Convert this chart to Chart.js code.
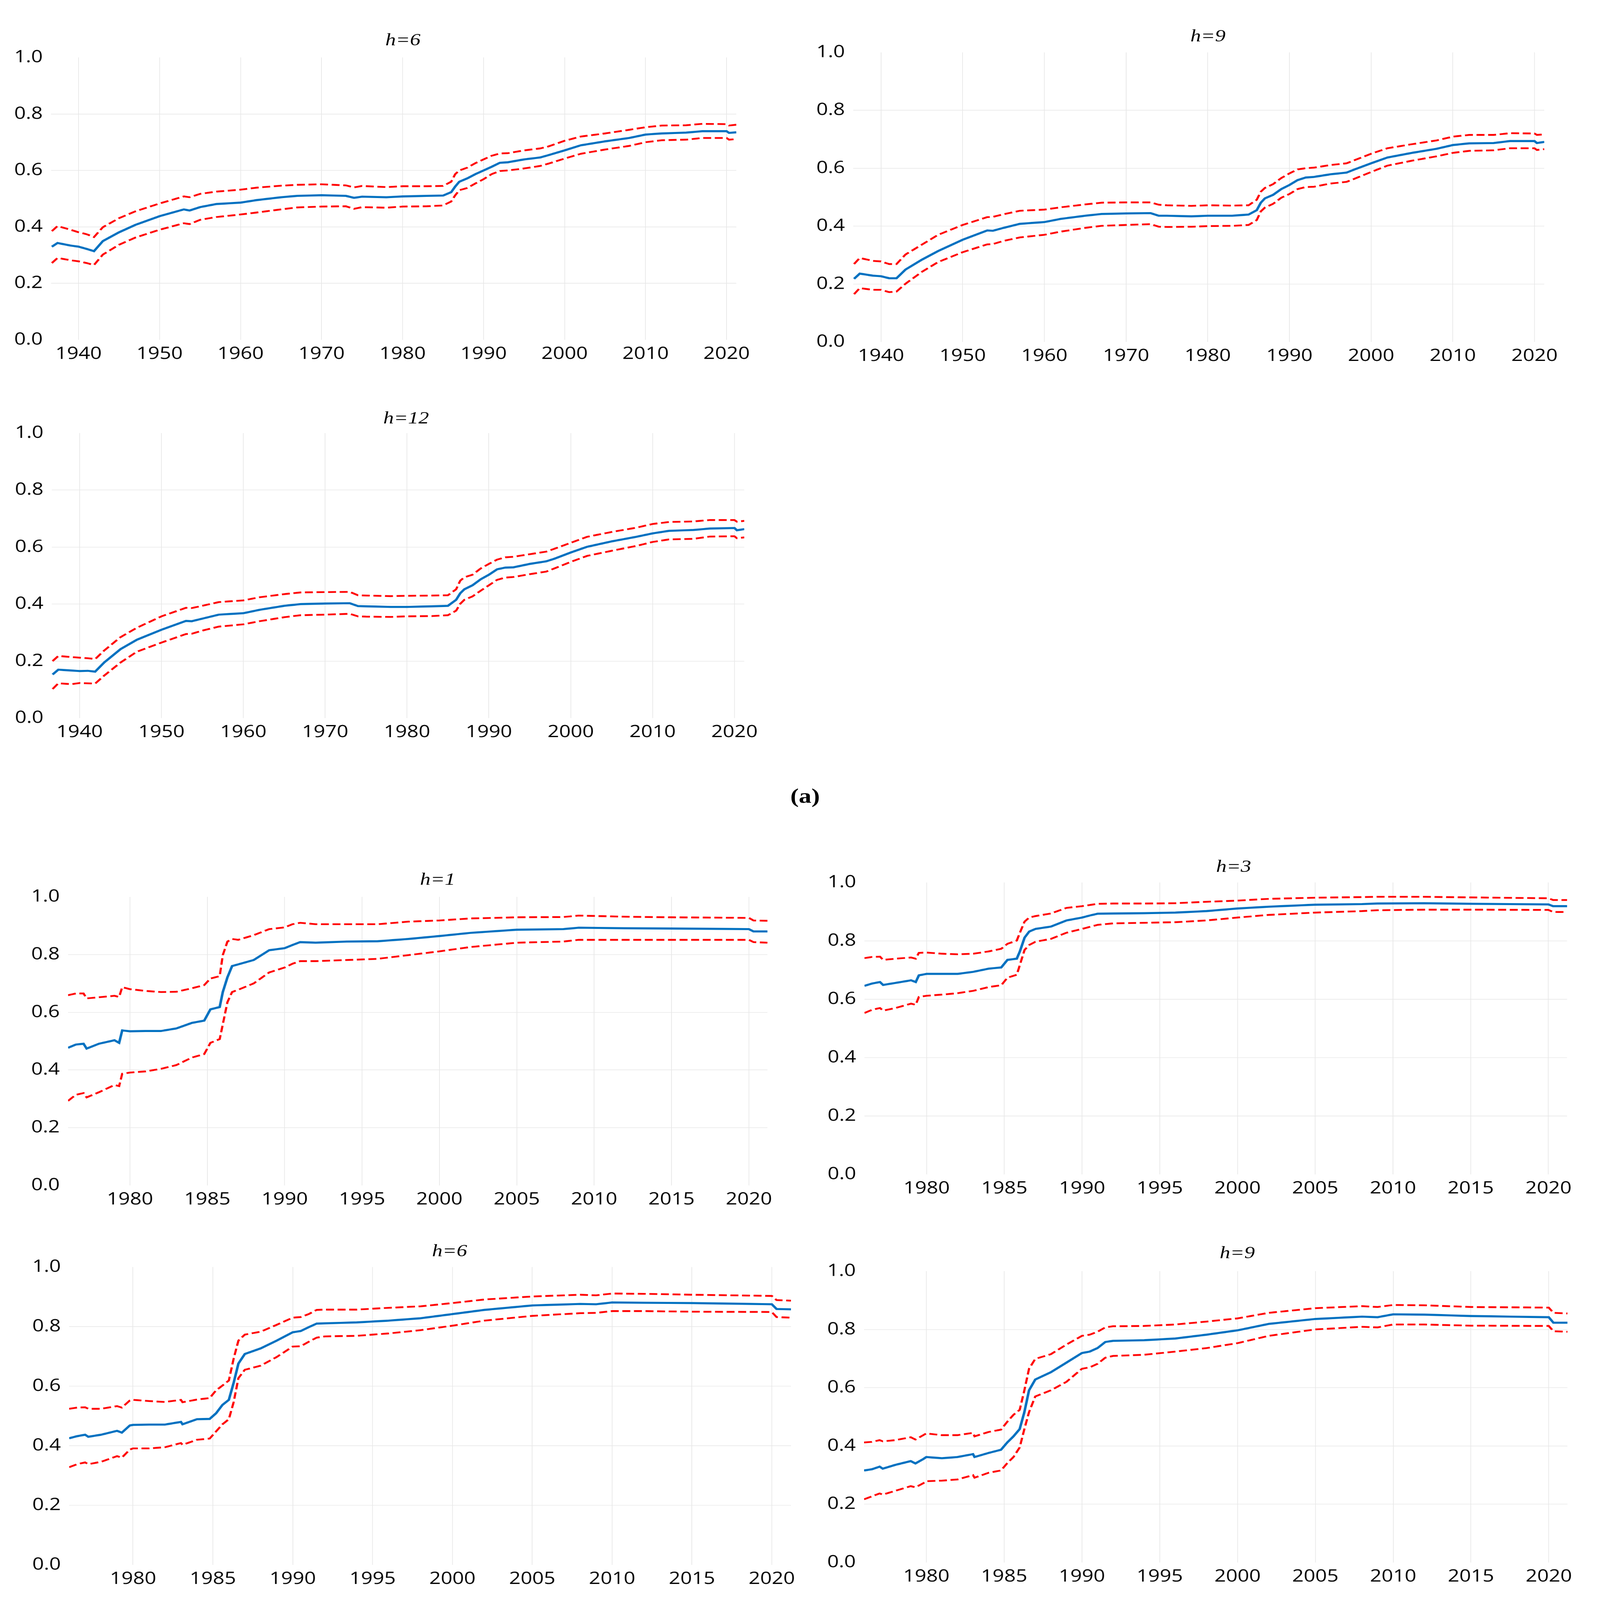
<!DOCTYPE html>
<html>
<head>
<meta charset="utf-8">
<script src="https://cdn.jsdelivr.net/npm/chart.js@4.4.1/dist/chart.umd.min.js"></script>
<style>
html,body{margin:0;padding:0;background:#fff;overflow:hidden;}
#page{position:absolute;left:0;top:0;width:4420px;height:5372px;background:#fff;overflow:hidden;transform-origin:0 0;}
#page canvas{position:absolute;}
.ttl{position:absolute;font-family:"Liberation Serif","Times New Roman",serif;font-style:italic;font-size:58px;line-height:1;transform:translate(-50%,-50%);white-space:nowrap;color:#000;}
.lab{position:absolute;font-family:"Liberation Serif","Times New Roman",serif;font-weight:bold;font-size:70px;line-height:1;transform:translate(-50%,-50%);white-space:nowrap;color:#000;}
</style>
</head>
<body>
<div id="page"></div>
<script>
// ---------------- DATA ----------------
const topTicks = [1940, 1950, 1960, 1970, 1980, 1990, 2000, 2010, 2020];
const botTicks = [1980, 1985, 1990, 1995, 2000, 2005, 2010, 2015, 2020];
const yTicks = [0.0, 0.2, 0.4, 0.6, 0.8, 1.0];
const topRange = [1936.6, 2021.2];
const botRange = [1976.0, 2021.2];

const yearsTop = [1936.7,1937.4,1939,1940,1941,1941.9,1943,1945,1947,1950,1953,1953.7,1955,1957,1960,1962,1965,1967,1970,1973,1974,1975,1978,1980,1983,1985,1986,1986.5,1987,1988,1989,1990,1991,1992,1993,1995,1997,1998,2000,2002,2005,2008,2010,2012,2015,2017,2020,2020.3,2021.2];

const h6TopMid = [0.330,0.343,0.334,0.330,0.322,0.314,0.350,0.381,0.407,0.438,0.462,0.458,0.470,0.481,0.486,0.495,0.505,0.510,0.512,0.510,0.503,0.507,0.505,0.508,0.510,0.511,0.523,0.543,0.560,0.572,0.587,0.600,0.613,0.627,0.629,0.639,0.646,0.654,0.671,0.689,0.703,0.715,0.727,0.731,0.734,0.739,0.739,0.733,0.735];
const h6TopUp  = [0.385,0.403,0.390,0.381,0.374,0.364,0.399,0.431,0.455,0.483,0.508,0.505,0.517,0.525,0.532,0.539,0.546,0.549,0.551,0.547,0.540,0.545,0.541,0.544,0.544,0.545,0.560,0.587,0.600,0.610,0.626,0.639,0.652,0.660,0.661,0.671,0.678,0.685,0.705,0.720,0.731,0.744,0.753,0.759,0.760,0.765,0.764,0.759,0.762];
const h6TopLo  = [0.272,0.290,0.282,0.278,0.272,0.265,0.302,0.337,0.362,0.390,0.413,0.410,0.425,0.435,0.444,0.451,0.462,0.469,0.472,0.473,0.464,0.470,0.468,0.472,0.473,0.476,0.490,0.512,0.530,0.538,0.554,0.569,0.587,0.598,0.600,0.607,0.616,0.624,0.642,0.659,0.674,0.687,0.700,0.707,0.709,0.715,0.715,0.709,0.711];

const h9TopMid = [0.218,0.236,0.229,0.227,0.220,0.220,0.250,0.284,0.314,0.353,0.385,0.384,0.394,0.408,0.414,0.425,0.436,0.442,0.444,0.445,0.436,0.436,0.434,0.436,0.436,0.440,0.455,0.481,0.496,0.508,0.528,0.542,0.559,0.568,0.570,0.579,0.585,0.596,0.617,0.637,0.653,0.667,0.680,0.686,0.687,0.694,0.694,0.687,0.691];
const h9TopUp  = [0.269,0.290,0.280,0.278,0.269,0.269,0.302,0.336,0.370,0.404,0.431,0.432,0.441,0.453,0.457,0.465,0.475,0.481,0.482,0.482,0.474,0.472,0.470,0.472,0.471,0.472,0.491,0.519,0.532,0.545,0.566,0.582,0.596,0.600,0.602,0.611,0.617,0.628,0.650,0.669,0.683,0.696,0.709,0.715,0.715,0.721,0.720,0.715,0.717];
const h9TopLo  = [0.165,0.186,0.180,0.180,0.172,0.174,0.201,0.242,0.276,0.310,0.337,0.338,0.349,0.361,0.370,0.381,0.394,0.401,0.404,0.407,0.398,0.397,0.398,0.400,0.401,0.404,0.421,0.451,0.464,0.477,0.498,0.511,0.528,0.535,0.536,0.547,0.553,0.564,0.587,0.609,0.626,0.641,0.653,0.660,0.662,0.669,0.669,0.663,0.666];

const h12Mid = [0.153,0.170,0.167,0.165,0.166,0.163,0.195,0.242,0.275,0.310,0.341,0.340,0.349,0.363,0.368,0.380,0.394,0.400,0.402,0.403,0.393,0.392,0.390,0.390,0.392,0.394,0.415,0.438,0.452,0.466,0.487,0.503,0.522,0.528,0.529,0.541,0.550,0.559,0.581,0.601,0.620,0.636,0.648,0.657,0.660,0.665,0.667,0.659,0.663];
const h12Up  = [0.200,0.218,0.214,0.212,0.210,0.207,0.237,0.284,0.317,0.357,0.387,0.386,0.394,0.407,0.413,0.424,0.435,0.441,0.442,0.443,0.431,0.430,0.428,0.429,0.430,0.431,0.452,0.482,0.494,0.503,0.525,0.541,0.556,0.564,0.566,0.575,0.584,0.594,0.615,0.636,0.653,0.668,0.681,0.688,0.690,0.695,0.695,0.689,0.692];
const h12Lo  = [0.102,0.122,0.119,0.123,0.122,0.121,0.149,0.195,0.233,0.265,0.295,0.296,0.307,0.321,0.329,0.340,0.354,0.361,0.363,0.366,0.357,0.356,0.355,0.357,0.358,0.361,0.377,0.401,0.415,0.427,0.447,0.466,0.485,0.493,0.495,0.505,0.514,0.525,0.548,0.569,0.587,0.604,0.618,0.627,0.629,0.637,0.638,0.631,0.634];

const yearsBotA = [1976.0,1976.5,1977,1977.2,1978,1979,1979.3,1979.5,1980,1981,1982,1983,1984,1984.8,1985.2,1985.8,1986,1986.3,1986.6,1987,1988,1989,1990,1990.5,1991,1992,1994,1996,1998,2000,2002,2005,2008,2009,2012,2015,2020,2020.3,2021.2];

const h1Mid = [0.477,0.488,0.491,0.474,0.491,0.503,0.494,0.537,0.534,0.535,0.535,0.544,0.563,0.571,0.610,0.618,0.670,0.721,0.760,0.766,0.781,0.815,0.822,0.833,0.843,0.841,0.845,0.846,0.854,0.864,0.875,0.886,0.888,0.893,0.891,0.890,0.888,0.880,0.880];
const h1Up  = [0.659,0.665,0.665,0.648,0.652,0.657,0.653,0.687,0.680,0.674,0.670,0.671,0.683,0.694,0.717,0.725,0.798,0.845,0.854,0.851,0.867,0.888,0.894,0.905,0.910,0.905,0.905,0.905,0.914,0.918,0.925,0.929,0.930,0.935,0.931,0.929,0.927,0.918,0.917];
const h1Lo  = [0.293,0.314,0.320,0.305,0.323,0.348,0.344,0.387,0.391,0.395,0.404,0.417,0.443,0.455,0.494,0.507,0.558,0.635,0.670,0.678,0.700,0.738,0.755,0.768,0.777,0.777,0.781,0.785,0.798,0.811,0.826,0.841,0.845,0.851,0.851,0.851,0.851,0.843,0.841];

const h3Mid = [0.646,0.654,0.659,0.649,0.656,0.665,0.659,0.682,0.687,0.687,0.687,0.694,0.705,0.709,0.735,0.739,0.764,0.811,0.832,0.841,0.849,0.870,0.880,0.887,0.893,0.894,0.895,0.897,0.902,0.911,0.917,0.924,0.926,0.928,0.929,0.927,0.925,0.919,0.919];
const h3Up  = [0.741,0.745,0.746,0.735,0.739,0.743,0.739,0.759,0.760,0.756,0.754,0.756,0.764,0.773,0.790,0.801,0.828,0.866,0.880,0.885,0.894,0.913,0.919,0.923,0.927,0.928,0.928,0.929,0.934,0.938,0.944,0.948,0.950,0.951,0.951,0.949,0.946,0.940,0.940];
const h3Lo  = [0.553,0.564,0.570,0.561,0.570,0.585,0.581,0.608,0.612,0.616,0.621,0.629,0.642,0.648,0.674,0.684,0.718,0.769,0.786,0.797,0.807,0.828,0.841,0.848,0.855,0.860,0.862,0.864,0.870,0.880,0.889,0.897,0.902,0.905,0.907,0.907,0.906,0.899,0.899];

const yearsBotB = [1976.0,1976.5,1977,1977.2,1978,1979,1979.3,1979.8,1980,1981,1982,1983,1983.1,1984,1984.8,1985.2,1985.6,1986,1986.3,1986.6,1987,1988,1989,1990,1990.5,1991,1991.5,1992,1994,1996,1998,2000,2002,2005,2008,2009,2010,2012,2015,2020,2020.3,2021.2];

const h6BotMid = [0.425,0.432,0.437,0.430,0.437,0.450,0.444,0.468,0.470,0.471,0.471,0.480,0.472,0.489,0.490,0.509,0.537,0.554,0.611,0.676,0.708,0.727,0.753,0.781,0.785,0.798,0.810,0.811,0.814,0.820,0.828,0.842,0.856,0.871,0.876,0.875,0.881,0.880,0.879,0.875,0.859,0.858];
const h6BotUp  = [0.524,0.528,0.529,0.524,0.524,0.533,0.528,0.552,0.554,0.550,0.547,0.554,0.546,0.555,0.560,0.586,0.602,0.619,0.692,0.753,0.773,0.783,0.806,0.830,0.832,0.842,0.856,0.857,0.857,0.863,0.868,0.879,0.891,0.901,0.907,0.905,0.911,0.910,0.907,0.903,0.889,0.887];
const h6BotLo  = [0.328,0.338,0.344,0.338,0.346,0.365,0.360,0.387,0.391,0.391,0.395,0.409,0.403,0.420,0.424,0.448,0.472,0.489,0.546,0.627,0.655,0.669,0.698,0.733,0.734,0.749,0.763,0.767,0.769,0.777,0.788,0.803,0.820,0.836,0.845,0.846,0.852,0.852,0.850,0.849,0.832,0.830];

const h9BotMid = [0.316,0.320,0.329,0.322,0.335,0.348,0.340,0.355,0.362,0.358,0.362,0.372,0.362,0.376,0.387,0.412,0.433,0.458,0.516,0.591,0.628,0.653,0.686,0.719,0.724,0.736,0.757,0.761,0.763,0.769,0.782,0.797,0.819,0.836,0.844,0.842,0.852,0.851,0.846,0.842,0.823,0.823];
const h9BotUp  = [0.412,0.414,0.420,0.416,0.420,0.430,0.422,0.437,0.443,0.437,0.437,0.445,0.433,0.448,0.456,0.483,0.507,0.524,0.591,0.665,0.699,0.715,0.748,0.778,0.782,0.792,0.807,0.811,0.812,0.817,0.827,0.838,0.857,0.873,0.880,0.877,0.884,0.883,0.877,0.875,0.857,0.855];
const h9BotLo  = [0.217,0.227,0.237,0.233,0.246,0.262,0.258,0.272,0.279,0.281,0.285,0.300,0.291,0.308,0.316,0.341,0.362,0.395,0.458,0.516,0.570,0.591,0.620,0.665,0.670,0.682,0.703,0.709,0.713,0.724,0.736,0.753,0.778,0.800,0.809,0.807,0.817,0.817,0.813,0.812,0.794,0.792];

// ---------------- LAYOUT (pixel boxes of plot areas, in 4420x5372 page units) ----------------
const panels = [
  {title:'h=6',  tx:1113, ty:133,  box:[141,193,2034,1141],   years:yearsTop,  mid:h6TopMid, up:h6TopUp, lo:h6TopLo, ticks:topTicks, range:topRange},
  {title:'h=9',  tx:3337, ty:120,  box:[2357,176,4266,1148],  years:yearsTop,  mid:h9TopMid, up:h9TopUp, lo:h9TopLo, ticks:topTicks, range:topRange},
  {title:'h=12', tx:1122, ty:1403, box:[143,1454,2056,2411],  years:yearsTop,  mid:h12Mid,   up:h12Up,   lo:h12Lo,   ticks:topTicks, range:topRange},
  {title:'h=1',  tx:1209, ty:2952, box:[188,3011,2120,3980],  years:yearsBotA, mid:h1Mid,    up:h1Up,    lo:h1Lo,    ticks:botTicks, range:botRange},
  {title:'h=3',  tx:3408, ty:2908, box:[2388,2963,4329,3943], years:yearsBotA, mid:h3Mid,    up:h3Up,    lo:h3Lo,    ticks:botTicks, range:botRange},
  {title:'h=6',  tx:1242, ty:4199, box:[191,4254,2185,5254],  years:yearsBotB, mid:h6BotMid, up:h6BotUp, lo:h6BotLo, ticks:botTicks, range:botRange},
  {title:'h=9',  tx:3418, ty:4205, box:[2387,4268,4330,5246], years:yearsBotB, mid:h9BotMid, up:h9BotUp, lo:h9BotLo, ticks:botTicks, range:botRange}
];

const PL = 200, PT = 60, PR = 100, PB = 130;
const page = document.getElementById('page');

// fit the 4420x5372 page into the actual viewport
const vw = window.innerWidth || document.documentElement.clientWidth || 4420;
const vh = window.innerHeight || document.documentElement.clientHeight || 5372;
page.style.transform = 'scale(' + (vw/4420) + ',' + (vh/5372) + ')';

function pts(xs, ys){ return xs.map((x,i)=>({x:x, y:ys[i]})); }

panels.forEach(p => {
  const [l,t,r,b] = p.box;
  const cv = document.createElement('canvas');
  const w = (r-l) + PL + PR, h = (b-t) + PT + PB;
  cv.width = w; cv.height = h;
  cv.style.left = (l-PL) + 'px';
  cv.style.top = (t-PT) + 'px';
  page.appendChild(cv);

  const tt = document.createElement('div');
  tt.className = 'ttl';
  tt.textContent = p.title;
  tt.style.left = p.tx + 'px';
  tt.style.top = p.ty + 'px';
  page.appendChild(tt);

  new Chart(cv, {
    type: 'line',
    data: {
      datasets: [
        {data: pts(p.years, p.mid), borderColor:'#0070C0', borderWidth:7, pointRadius:0, tension:0, fill:false},
        {data: pts(p.years, p.up), borderColor:'#FF0000', borderWidth:6, borderDash:[22,10], pointRadius:0, tension:0, fill:false},
        {data: pts(p.years, p.lo), borderColor:'#FF0000', borderWidth:6, borderDash:[22,10], pointRadius:0, tension:0, fill:false}
      ]
    },
    options: {
      responsive:false, animation:false, devicePixelRatio:1,
      layout:{padding:{left:0, top:PT, right:PR, bottom:0}},
      plugins:{legend:{display:false}, tooltip:{enabled:false}, title:{display:false}},
      scales:{
        x:{
          type:'linear', min:p.range[0], max:p.range[1],
          afterBuildTicks: s => { s.ticks = p.ticks.map(v => ({value:v})); },
          afterFit: s => { s.height = PB; },
          border:{display:false},
          grid:{color:'#E8E8E8', lineWidth:2, drawTicks:false},
          ticks:{autoSkip:false, maxRotation:0, padding:14, color:'#000',
                 font:{family:'"Open Sans", "Noto Sans", sans-serif', size:56},
                 callback: v => String(Math.round(v))}
        },
        y:{
          min:0, max:1,
          afterBuildTicks: s => { s.ticks = yTicks.map(v => ({value:v})); },
          afterFit: s => { s.width = PL; },
          border:{display:false},
          grid:{color: c => (c.tick && (c.tick.value < 0.01 || c.tick.value > 0.99)) ? 'rgba(0,0,0,0)' : '#E8E8E8', lineWidth:2, drawTicks:false},
          ticks:{padding:23, color:'#000',
                 font:{family:'"Open Sans", "Noto Sans", sans-serif', size:56},
                 callback: v => Number(v).toFixed(1)}
        }
      }
    }
  });
});

const lab = document.createElement('div');
lab.className = 'lab';
lab.textContent = '(a)';
lab.style.left = '2224px';
lab.style.top = '2672px';
page.appendChild(lab);
</script>
</body>
</html>
